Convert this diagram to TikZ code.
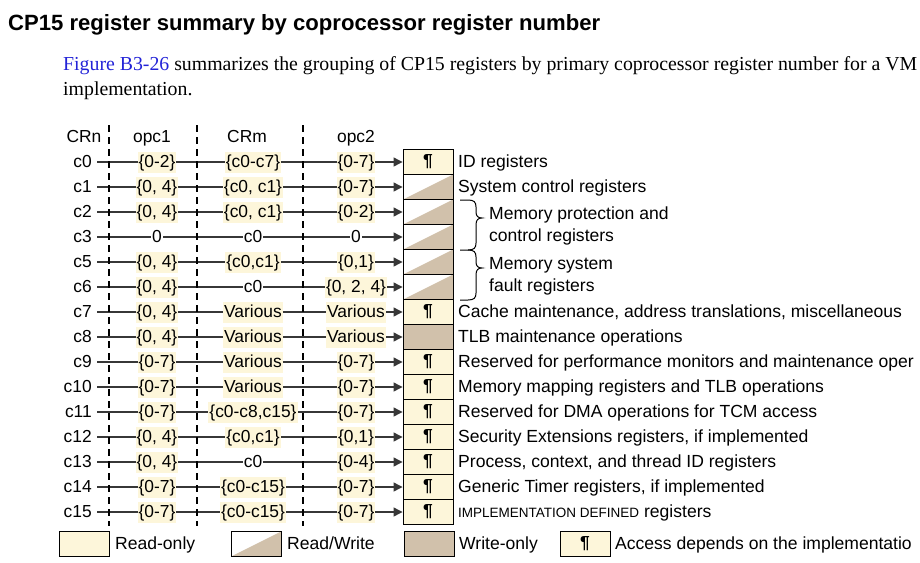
\documentclass[tikz,border=0pt]{standalone}
\usepackage{fontspec}
\setmainfont{Liberation Serif}
\setsansfont{Liberation Sans}
\usetikzlibrary{arrows.meta,backgrounds}
\definecolor{cream}{RGB}{253,246,218}
\definecolor{regtan}{RGB}{209,193,171}
\definecolor{linkblue}{RGB}{35,35,215}
\definecolor{linegray}{RGB}{55,55,55}
\tikzset{
  every node/.style={font=\sffamily\fontsize{17.4}{20}\selectfont, text=black},
  lab/.style={inner xsep=1pt, inner ysep=2pt, text height=14pt, text depth=3pt},
  labc/.style={lab, fill=cream},
  labw/.style={lab, fill=white},
  crnlab/.style={lab, anchor=east},
  hdr/.style={lab},
  regbox/.style={draw=black, line width=0.9pt, minimum width=50pt, minimum height=25pt, inner sep=0pt},
  pbox/.style={regbox, fill=cream, font=\sffamily\bfseries\fontsize{17.4}{20}\selectfont},
  rwbox/.style={regbox, fill=white, path picture={\fill[regtan] (path picture bounding box.south west) -- (path picture bounding box.south east) -- (path picture bounding box.north east) -- cycle;}},
  wobox/.style={regbox, fill=regtan},
  desc/.style={anchor=west, inner xsep=2pt, inner ysep=2pt, text height=14pt, text depth=3pt, font=\sffamily\fontsize{17.55}{20}\selectfont},
  rowline/.style={draw=linegray, line width=1.2pt},
  rowarrow/.style={rowline, -{Triangle[length=9pt,width=9pt]}},
  colsep/.style={draw=black, line width=2.2pt, dash pattern=on 7pt off 5pt},
  bracepath/.style={draw=black, line width=1pt},
}
\begin{document}
\begin{tikzpicture}[x=1pt,y=-1pt]
\useasboundingbox (0,0) rectangle (920,562);

% title and paragraph
\node[anchor=base west, inner sep=0pt, font=\sffamily\bfseries\fontsize{22.1}{26}\selectfont] (title) at (8,30)
  {CP15 register summary by coprocessor register number};
\node[anchor=base west, inner sep=0pt, font=\rmfamily\fontsize{19.8}{23}\selectfont] (para1) at (63,70)
  {\textcolor{linkblue}{Figure B3-26} summarizes the grouping of CP15 registers by primary coprocessor register number for a VM};
\node[anchor=base west, inner sep=0pt, font=\rmfamily\fontsize{19.8}{23}\selectfont] (para2) at (63,95)
  {implementation.};

% column headers
\node[hdr] (h-crn) at (84,137) {CRn};
\node[hdr] (h-opc1) at (152,137) {opc1};
\node[hdr] (h-crm) at (247,137) {CRm};
\node[hdr] (h-opc2) at (356,137) {opc2};

% dashed column separators
\coordinate (s1t) at (109,125); \coordinate (s1b) at (109,526);
\coordinate (s2t) at (197,125); \coordinate (s2b) at (197,526);
\coordinate (s3t) at (303,125); \coordinate (s3b) at (303,526);

% rows
\foreach \n/\y/\a/\sa/\b/\sb/\c/\sc/\bx/\bt in {
  c0/162/{\{0-2\}}/labc/{\{c0-c7\}}/labc/{\{0-7\}}/labc/pbox/{¶},
  c1/187/{\{0, 4\}}/labc/{\{c0, c1\}}/labc/{\{0-7\}}/labc/rwbox/{},
  c2/212/{\{0, 4\}}/labc/{\{c0, c1\}}/labc/{\{0-2\}}/labc/rwbox/{},
  c3/237/{0}/labw/{c0}/labw/{0}/labw/rwbox/{},
  c5/262/{\{0, 4\}}/labc/{\{c0,c1\}}/labc/{\{0,1\}}/labc/rwbox/{},
  c6/287/{\{0, 4\}}/labc/{c0}/labw/{\{0, 2, 4\}}/labc/rwbox/{},
  c7/312/{\{0, 4\}}/labc/{Various}/labc/{Various}/labc/pbox/{¶},
  c8/337/{\{0, 4\}}/labc/{Various}/labc/{Various}/labc/wobox/{},
  c9/362/{\{0-7\}}/labc/{Various}/labc/{\{0-7\}}/labc/pbox/{¶},
  c10/387/{\{0-7\}}/labc/{Various}/labc/{\{0-7\}}/labc/pbox/{¶},
  c11/412/{\{0-7\}}/labc/{\{c0-c8,c15\}}/labc/{\{0-7\}}/labc/pbox/{¶},
  c12/437/{\{0, 4\}}/labc/{\{c0,c1\}}/labc/{\{0,1\}}/labc/pbox/{¶},
  c13/462/{\{0, 4\}}/labc/{c0}/labw/{\{0-4\}}/labc/pbox/{¶},
  c14/487/{\{0-7\}}/labc/{\{c0-c15\}}/labc/{\{0-7\}}/labc/pbox/{¶},
  c15/512/{\{0-7\}}/labc/{\{c0-c15\}}/labc/{\{0-7\}}/labc/pbox/{¶}} {
  \node[crnlab] (crn-\n) at (93,\y) {\n};
  \coordinate (st-\n) at (97,\y);
  \node[\sa] (a-\n) at (157,\y) {\a};
  \node[\sb] (b-\n) at (253,\y) {\b};
  \node[\sc] (c-\n) at (356,\y) {\c};
  \node[\bx] (box-\n) at (428,\y) {\bt};
  \begin{pgfonlayer}{background}
    \draw[rowarrow] (st-\n) -- (box-\n.west);
  \end{pgfonlayer}
}
\begin{pgfonlayer}{background}
  \draw[colsep] (s1t) -- (s1b);
  \draw[colsep] (s2t) -- (s2b);
  \draw[colsep] (s3t) -- (s3b);
\end{pgfonlayer}

% descriptions
\node[desc] (d-c0) at (456,162) {ID registers};
\node[desc] (d-c1) at (456,187) {System control registers};
\node[desc] (d-c23a) at (487,214) {Memory protection and};
\node[desc] (d-c23b) at (487,236) {control registers};
\node[desc] (d-c56a) at (487,264) {Memory system};
\node[desc] (d-c56b) at (487,286) {fault registers};
\node[desc] (d-c7) at (456,312) {Cache maintenance, address translations, miscellaneous};
\node[desc] (d-c8) at (456,337) {TLB maintenance operations};
\node[desc] (d-c9) at (456,362) {Reserved for performance monitors and maintenance oper};
\node[desc] (d-c10) at (456,387) {Memory mapping registers and TLB operations};
\node[desc] (d-c11) at (456,412) {Reserved for DMA operations for TCM access};
\node[desc] (d-c12) at (456,437) {Security Extensions registers, if implemented};
\node[desc] (d-c13) at (456,462) {Process, context, and thread ID registers};
\node[desc] (d-c14) at (456,487) {Generic Timer registers, if implemented};
\node[desc] (d-c15) at (456,512) {{\fontsize{13.5}{16}\selectfont IMPLEMENTATION DEFINED} registers};

% braces
\draw[bracepath] (460,200) -- (468,200) .. controls (474,200) and (476,202) .. (476,207)
  -- (476,212) .. controls (476,216) and (478,218) .. (482,218)
  .. controls (478,218) and (476,220) .. (476,225)
  -- (476,243) .. controls (476,248) and (474,250) .. (468,250) -- (460,250);
\draw[bracepath] (468,250) .. controls (474,250) and (476,252) .. (476,257)
  -- (476,262) .. controls (476,266) and (478,268) .. (482,268)
  .. controls (478,268) and (476,270) .. (476,275)
  -- (476,293) .. controls (476,298) and (474,300) .. (468,300) -- (460,300);

% legend
\node[regbox, fill=cream] (k-ro) at (84,544) {};
\node[desc] (kt-ro) at (113,544) {Read-only};
\node[rwbox] (k-rw) at (256,544) {};
\node[desc] (kt-rw) at (285,544) {Read/Write};
\node[wobox] (k-wo) at (429,544) {};
\node[desc] (kt-wo) at (457,544) {Write-only};
\node[pbox] (k-p) at (585,544) {¶};
\node[desc] (kt-p) at (613,544) {Access depends on the implementatio};
\end{tikzpicture}
\end{document}
